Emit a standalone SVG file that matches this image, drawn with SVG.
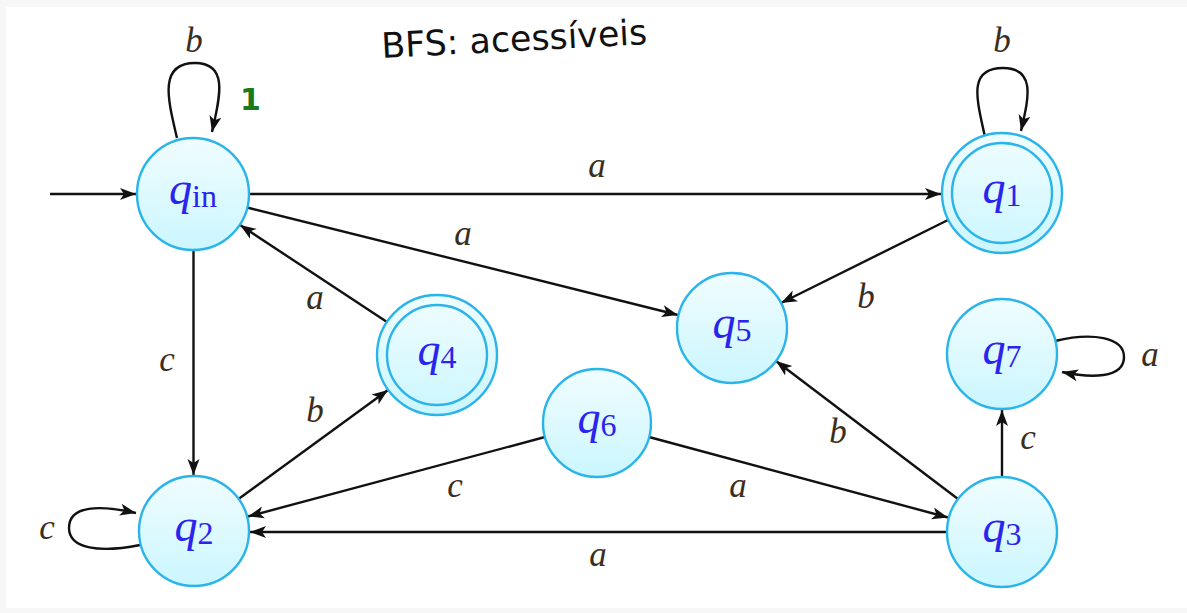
<svg xmlns="http://www.w3.org/2000/svg" width="1187" height="613" viewBox="0 0 1187 613">
<defs>
<linearGradient id="nf" x1="0" y1="0" x2="0" y2="1">
<stop offset="0" stop-color="#f0fdff"/>
<stop offset="1" stop-color="#cbf6fe"/>
</linearGradient>
<marker id="ah" markerUnits="userSpaceOnUse" markerWidth="18" markerHeight="14" refX="16" refY="7" orient="auto">
<path d="M0,1 L16,7 L0,13 L4,7 Z" fill="#111"/>
</marker>
</defs>
<style>
.node{fill:url(#nf);stroke:#2ab4ea;stroke-width:2.4}
.q{font-family:"Liberation Serif",serif;font-style:italic;font-size:46px;fill:#2a24ee}
.sub{font-family:"Liberation Serif",serif;font-style:normal;font-size:32px;fill:#2a24ee}
.e{fill:none;stroke:#111;stroke-width:2.4;marker-end:url(#ah)}
.lbl{font-family:"Liberation Serif",serif;font-style:italic;font-size:35px;fill:#3b2e1c;text-anchor:middle}
.hand{font-family:"DejaVu Sans",sans-serif;fill:#111}
</style>
<rect x="0" y="0" width="1187" height="613" fill="#f7f7f7"/>
<rect x="6" y="7" width="1181" height="601" fill="#ffffff"/>

<g id="connectors">
<line class="e" x1="50" y1="194" x2="136" y2="194"/>
<path class="e" d="M177,138 C168,100 158,63 195,63 C230,63 219,100 212,132"/>
<path class="e" d="M985,137 C977,100 967,68 1003,68 C1037,68 1028,100 1021,131"/>
<path class="e" d="M1055,341 C1092,332 1124,337 1124,357 C1124,379 1090,378 1062,372"/>
<path class="e" d="M140,545 C100,553 69,549 69,528 C69,505 100,505 136,513"/>
<line class="e" x1="249" y1="194" x2="941" y2="194"/>
<line class="e" x1="247" y1="207.5" x2="678" y2="315"/>
<line class="e" x1="193.5" y1="250" x2="193.5" y2="475"/>
<line class="e" x1="387" y1="322" x2="240" y2="225"/>
<line class="e" x1="238.5" y1="499" x2="388" y2="390"/>
<line class="e" x1="545" y1="437" x2="248" y2="516.5"/>
<line class="e" x1="649" y1="437" x2="948" y2="517.5"/>
<line class="e" x1="947" y1="532" x2="250" y2="532"/>
<line class="e" x1="958" y1="499" x2="776" y2="361"/>
<line class="e" x1="948" y1="220" x2="781" y2="303"/>
<line class="e" x1="1002" y1="477" x2="1002" y2="410"/>
</g>

<g id="edge-labels">
<text class="lbl" x="194" y="52">b</text>
<text class="lbl" x="1002" y="52">b</text>
<text class="lbl" x="1150" y="366">a</text>
<text class="lbl" x="47" y="539">c</text>
<text class="lbl" x="597" y="177">a</text>
<text class="lbl" x="463" y="245">a</text>
<text class="lbl" x="167" y="371">c</text>
<text class="lbl" x="315" y="309">a</text>
<text class="lbl" x="315" y="422">b</text>
<text class="lbl" x="455" y="497">c</text>
<text class="lbl" x="738" y="497">a</text>
<text class="lbl" x="598" y="566">a</text>
<text class="lbl" x="838" y="443">b</text>
<text class="lbl" x="866" y="308">b</text>
<text class="lbl" x="1028" y="449">c</text>
</g>

<g id="q_in">
<circle class="node" cx="193" cy="194" r="56"/>
<text x="193" y="204" text-anchor="middle"><tspan class="q">q</tspan><tspan class="sub" dy="3">in</tspan></text>
</g>
<g id="q1">
<circle class="node" cx="1002" cy="193" r="60"/>
<circle cx="1002" cy="193" r="50" fill="none" stroke="#2ab4ea" stroke-width="2.4"/>
<text x="1002" y="203" text-anchor="middle"><tspan class="q">q</tspan><tspan class="sub" dy="3">1</tspan></text>
</g>
<g id="q5">
<circle class="node" cx="732" cy="328" r="55"/>
<text x="732" y="338" text-anchor="middle"><tspan class="q">q</tspan><tspan class="sub" dy="3">5</tspan></text>
</g>
<g id="q4">
<circle class="node" cx="437" cy="355" r="60"/>
<circle cx="437" cy="355" r="50" fill="none" stroke="#2ab4ea" stroke-width="2.4"/>
<text x="437" y="365" text-anchor="middle"><tspan class="q">q</tspan><tspan class="sub" dy="3">4</tspan></text>
</g>
<g id="q7">
<circle class="node" cx="1002" cy="354" r="55"/>
<text x="1002" y="364" text-anchor="middle"><tspan class="q">q</tspan><tspan class="sub" dy="3">7</tspan></text>
</g>
<g id="q6">
<circle class="node" cx="597" cy="423" r="54"/>
<text x="597" y="433" text-anchor="middle"><tspan class="q">q</tspan><tspan class="sub" dy="3">6</tspan></text>
</g>
<g id="q2">
<circle class="node" cx="194" cy="531" r="55"/>
<text x="194" y="541" text-anchor="middle"><tspan class="q">q</tspan><tspan class="sub" dy="3">2</tspan></text>
</g>
<g id="q3">
<circle class="node" cx="1002" cy="532" r="55"/>
<text x="1002" y="542" text-anchor="middle"><tspan class="q">q</tspan><tspan class="sub" dy="3">3</tspan></text>
</g>

<g id="annotations">
<text class="hand" x="382" y="58" font-size="35" transform="rotate(-3 382 58)" textLength="266" lengthAdjust="spacingAndGlyphs">BFS: acessíveis</text>
<text x="240" y="110" font-family="DejaVu Sans, sans-serif" font-size="30" font-weight="bold" fill="#1a7a1a">1</text>
</g>
</svg>
